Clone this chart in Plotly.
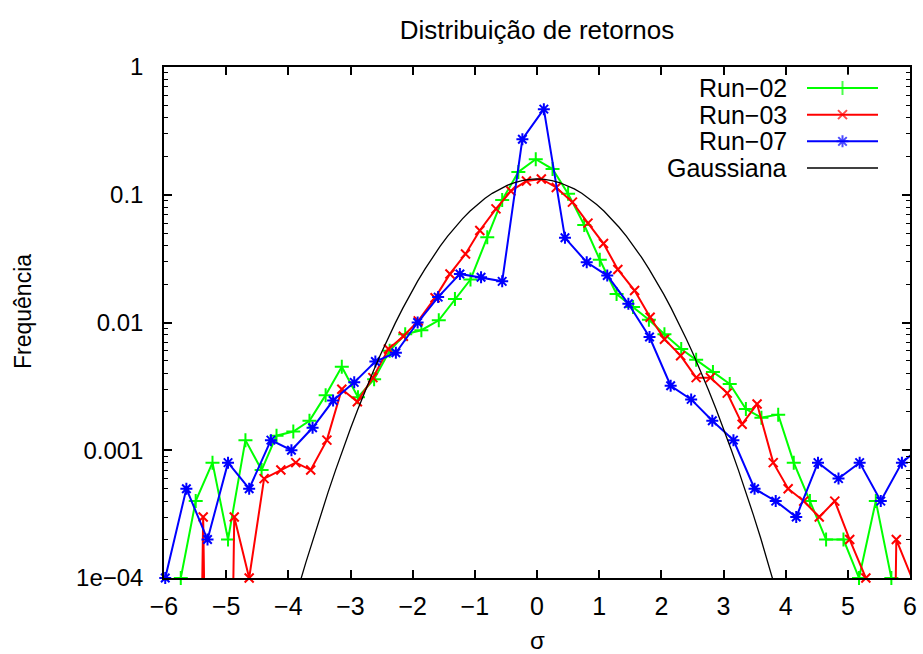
import numpy as np
import plotly.graph_objects as go

# ---------------- data ----------------
run02_x = [-5.73, -5.49, -5.22, -4.97, -4.69, -4.43, -4.19, -3.92, -3.66, -3.40,
           -3.14, -2.88, -2.62, -2.37, -2.12, -1.86, -1.58, -1.32, -1.07, -0.80,
           -0.56, -0.30, -0.02, 0.25, 0.50, 0.76, 1.01, 1.28, 1.545, 1.80,
           2.05, 2.32, 2.56, 2.83, 3.10, 3.36, 3.61, 3.88, 4.13, 4.39,
           4.65, 4.93, 5.18, 5.45, 5.70, 5.96]
run02_y = [1e-4, 4e-4, 8e-4, 2e-4, 1.2e-3, 7e-4, 1.3e-3, 1.4e-3, 1.7e-3, 2.7e-3,
           4.5e-3, 2.6e-3, 3.6e-3, 6.0e-3, 8.1e-3, 8.7e-3, 0.0104, 0.0153, 0.0217, 0.0464,
           0.091, 0.151, 0.19, 0.159, 0.102, 0.058, 0.031, 0.0167, 0.0132, 0.0105,
           8.1e-3, 6.2e-3, 5.1e-3, 4.1e-3, 3.3e-3, 2.1e-3, 1.8e-3, 1.9e-3, 8e-4, 4e-4,
           2e-4, 2e-4, 1e-4, 4e-4, 1e-4, 0]

run03_x = [-5.62, -5.37, -5.12, -4.87, -4.63, -4.39, -4.12, -3.88, -3.64, -3.38,
           -3.14, -2.89, -2.64, -2.39, -2.15, -1.91, -1.64, -1.40, -1.15, -0.92,
           -0.66, -0.42, -0.17, 0.07, 0.31, 0.57, 0.82, 1.07, 1.30, 1.57,
           1.82, 2.05, 2.31, 2.56, 2.79, 3.06, 3.30, 3.54, 3.80, 4.04,
           4.29, 4.54, 4.79, 5.03, 5.29, 5.54, 5.78, 6.03]
run03_y = [0, 3e-4, 0, 3e-4, 1e-4, 6e-4, 7e-4, 8e-4, 7e-4, 1.2e-3,
           3.0e-3, 2.4e-3, 3.7e-3, 6.2e-3, 7.8e-3, 0.0103, 0.0156, 0.024, 0.0344, 0.0525,
           0.0775, 0.107, 0.128, 0.133, 0.114, 0.0875, 0.060, 0.0415, 0.026, 0.0178,
           0.011, 7.4e-3, 5.5e-3, 3.7e-3, 3.7e-3, 2.8e-3, 1.6e-3, 2.3e-3, 8e-4, 5e-4,
           4e-4, 3e-4, 4e-4, 2e-4, 1e-4, 0, 2e-4, 1e-4]

run07_x = [-5.98, -5.64, -5.30, -4.97, -4.63, -4.28, -3.95, -3.61, -3.28, -2.94,
           -2.60, -2.27, -1.92, -1.59, -1.24, -0.90, -0.56, -0.235, 0.11, 0.45,
           0.80, 1.13, 1.47, 1.81, 2.15, 2.48, 2.82, 3.16, 3.50, 3.84,
           4.17, 4.52, 4.85, 5.19, 5.53, 5.87, 6.21]
run07_y = [1e-4, 5e-4, 2e-4, 8e-4, 5e-4, 1.2e-3, 1.0e-3, 1.5e-3, 2.45e-3, 3.4e-3,
           4.95e-3, 5.8e-3, 0.0100, 0.0158, 0.024, 0.0226, 0.021, 0.272, 0.468, 0.046,
           0.0296, 0.0233, 0.014, 7.7e-3, 3.2e-3, 2.5e-3, 1.7e-3, 1.2e-3, 5e-4, 4e-4,
           3e-4, 8e-4, 6e-4, 8e-4, 4e-4, 8e-4, 1.1e-3]

# Gaussian reference curve (function plot in the original)
gauss_amp = 0.133
gauss_sigma = 1.0
gauss_samples = 101

series_names = ["Run\u221202", "Run\u221203", "Run\u221207", "Gaussiana"]
x_ticks = [-6, -5, -4, -3, -2, -1, 0, 1, 2, 3, 4, 5, 6]
x_ticktext = [str(v).replace("-", "\u2212") for v in x_ticks]
y_ticks = [1e-4, 1e-3, 1e-2, 1e-1, 1]
y_ticktext = ["1e\u221204", "0.001", "0.01", "0.1", "1"]

# ---------------- figure ----------------
X_MIN, X_MAX = -6, 6
FLOOR = 1e-12  # empty bins: drawn far below the axis, as in the original

gauss_x = np.linspace(X_MIN, X_MAX, gauss_samples)
gauss_y = gauss_amp * np.exp(-gauss_x ** 2 / (2 * gauss_sigma ** 2))


def line_y(ys):
    return [y if y > 0 else FLOOR for y in ys]


def mark_y(xs, ys):
    return [y if (y > 0 and X_MIN <= x <= X_MAX) else None for x, y in zip(xs, ys)]


FONT = "Liberation Sans, Arial, sans-serif"
FS = 24
fig = go.Figure()

styles = [
    (run02_x, run02_y, "#00ff00", "cross-thin", 10),
    (run03_x, run03_y, "#ff0000", "x-thin", 9),
    (run07_x, run07_y, "#0000ff", "asterisk", 10),
]
for xs, ys, col, sym, size in styles:
    fig.add_trace(go.Scatter(x=xs, y=line_y(ys), mode="lines",
                             line=dict(color=col, width=2), showlegend=False,
                             hoverinfo="skip"))
    fig.add_trace(go.Scatter(x=xs, y=mark_y(xs, ys), mode="markers",
                             marker=dict(symbol=sym, size=size, color=col,
                                         line=dict(color=col, width=2)),
                             cliponaxis=False, showlegend=False))

fig.add_trace(go.Scatter(x=gauss_x, y=gauss_y, mode="lines",
                         line=dict(color="black", width=1.3), showlegend=False))

# ---------- custom key (text left, sample right, like gnuplot) ----------
key_rows = [3, 2, 1, 0]
key_styles = [("#00ff00", "cross-thin", 10), ("#ff0000", "x-thin", 9),
              ("#0000ff", "asterisk", 10), ("black", "circle", 0)]
for row, (col, sym, size) in zip(key_rows, key_styles):
    fig.add_trace(go.Scatter(x=[0, 0.5, 1], y=[row] * 3, mode="lines+markers",
                             xaxis="x2", yaxis="y2",
                             line=dict(color=col, width=2 if size else 1.3),
                             marker=dict(symbol=sym, size=[0, size, 0], color=col,
                                         line=dict(color=col, width=2)),
                             cliponaxis=False, showlegend=False, hoverinfo="skip"))

# pixel geometry of the plot area
L, R, T, B = 164, 910, 67, 578
W, H = 923, 654
pw, ph = R - L, B - T


def px2paper_x(px):
    return (px - L) / pw


def py2paper_y(py):
    return (B - py) / ph


row_py = [88, 114.7, 141.3, 168]
for name, py in zip(series_names, row_py):
    fig.add_annotation(x=px2paper_x(789), y=py2paper_y(py), xref="paper", yref="paper",
                       text=name, showarrow=False, xanchor="right", yanchor="middle",
                       font=dict(family=FONT, size=25, color="black"))

row_h = (row_py[-1] - row_py[0]) / 3
key_dom_y = [py2paper_y(row_py[-1] + 0.5 * row_h), py2paper_y(row_py[0] - 0.5 * row_h)]
kx0, kx1 = 807, 878
kpad = 0.05 * (kx1 - kx0)
key_dom_x = [px2paper_x(kx0 - kpad), px2paper_x(kx1 + kpad)]

fig.add_annotation(x=0.5, y=py2paper_y(640), xref="paper", yref="paper",
                   text="\u03c3", showarrow=False, xanchor="center", yanchor="middle",
                   font=dict(family=FONT, size=FS, color="black"))
fig.add_annotation(x=px2paper_x(23), y=py2paper_y(312), xref="paper", yref="paper",
                   text="Frequência", showarrow=False, textangle=-90,
                   xanchor="center", yanchor="middle",
                   font=dict(family=FONT, size=23, color="black"))

minor_vals = [k * 10.0 ** e for e in range(-4, 0) for k in range(2, 10)]

fig.update_layout(
    width=W, height=H,
    margin=dict(l=L, r=W - R, t=T, b=H - B, pad=0, autoexpand=False),
    paper_bgcolor="white", plot_bgcolor="white",
    font=dict(family=FONT, size=FS, color="black"),
    title=dict(text="Distribuição de retornos", x=0.5, xref="paper",
               y=1 - 30 / H, yref="container", yanchor="middle", xanchor="center",
               font=dict(family=FONT, size=26, color="black")),
    showlegend=False,
    xaxis=dict(range=[X_MIN, X_MAX], tickmode="array", tickvals=x_ticks,
               ticktext=x_ticktext, ticks="inside", ticklen=8, tickwidth=1.5,
               tickcolor="black", showline=True, linecolor="black", linewidth=1.5,
               mirror="allticks", showgrid=False, zeroline=False, automargin=False,
               ticklabelstandoff=5, tickfont=dict(family=FONT, size=25)),
    yaxis=dict(type="log", range=[-4, 0], tickmode="array", tickvals=y_ticks,
               ticktext=y_ticktext, ticks="inside", ticklen=8, tickwidth=1.5,
               tickcolor="black", showline=True, linecolor="black", linewidth=1.5,
               mirror="allticks", showgrid=False, zeroline=False, automargin=False,
               ticklabelstandoff=14, tickfont=dict(family=FONT, size=FS),
               minor=dict(tickmode="array", tickvals=minor_vals, ticks="inside",
                          ticklen=4, tickwidth=1.2, tickcolor="black", showgrid=False)),
    xaxis2=dict(domain=key_dom_x, range=[-0.05, 1.05], anchor="y2", visible=False,
                fixedrange=True),
    yaxis2=dict(domain=key_dom_y, range=[-0.5, 3.5], anchor="x2", visible=False,
                fixedrange=True),
)

fig.write_html("out.html")
